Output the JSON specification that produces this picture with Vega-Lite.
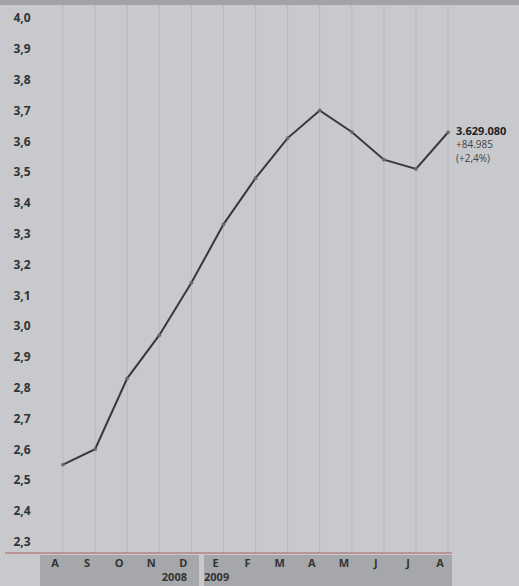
{
  "$schema": "https://vega.github.io/schema/vega-lite/v6.json",
  "width": 412,
  "height": 548,
  "autosize": {"type": "none"},
  "padding": {"left": 40, "top": 5, "right": 67, "bottom": 33},
  "background": "#c8c9cc",
  "config": {
    "view": {"stroke": null},
    "font": "Open Sans",
    "axisX": {
      "tickCount": 13,
      "domain": false,
      "ticks": false,
      "grid": false,
      "labels": false
    },
    "axisY": {
      "orient": "left",
      "tickCount": 18,
      "labelExpr": "replace(format(datum.value, '.1f'), '.', ',')",
      "domain": false,
      "ticks": false,
      "grid": false,
      "labelAlign": "left",
      "labelBaseline": "middle",
      "labelPadding": 27,
      "labelFont": "Open Sans",
      "labelFontWeight": "bold",
      "labelFontSize": 12,
      "labelColor": "#333333",
      "labelFlush": false,
      "labelOverlap": false
    }
  },
  "data": {
    "values": [
      {"m": 0, "mes": "A", "v": 2.55},
      {"m": 1, "mes": "S", "v": 2.60},
      {"m": 2, "mes": "O", "v": 2.83},
      {"m": 3, "mes": "N", "v": 2.97},
      {"m": 4, "mes": "D", "v": 3.14},
      {"m": 5, "mes": "E", "v": 3.33},
      {"m": 6, "mes": "F", "v": 3.48},
      {"m": 7, "mes": "M", "v": 3.61},
      {"m": 8, "mes": "A", "v": 3.70},
      {"m": 9, "mes": "M", "v": 3.63},
      {"m": 10, "mes": "J", "v": 3.54},
      {"m": 11, "mes": "J", "v": 3.51},
      {"m": 12, "mes": "A", "v": 3.629}
    ]
  },
  "layer": [
    {
      "mark": {"type": "rule", "color": "#b8b9bc", "strokeWidth": 1},
      "encoding": {
        "x": {
          "field": "m",
          "type": "quantitative",
          "title": null,
          "scale": {"domain": [-0.717, 12.122], "nice": false, "zero": false}
        },
        "y": {
          "datum": 2.2628,
          "type": "quantitative",
          "scale": {"domain": [2.2628, 4.0422], "nice": false, "zero": false}
        },
        "y2": {"datum": 4.0422}
      }
    },
    {
      "mark": {"type": "line", "color": "#383838", "strokeWidth": 2},
      "encoding": {
        "x": {"field": "m", "type": "quantitative", "title": null},
        "y": {"field": "v", "type": "quantitative", "title": null}
      }
    },
    {
      "data": {"values": [{}]},
      "mark": {"type": "rect", "color": "#a2a3a6"},
      "encoding": {
        "x": {"datum": -1.963, "type": "quantitative"},
        "x2": {"datum": 14.21},
        "y": {"datum": 4.0422, "type": "quantitative"},
        "y2": {"datum": 4.07}
      }
    },
    {
      "data": {"values": [{"a": -0.717, "b": 4.238}, {"a": 4.394, "b": 12.122}]},
      "mark": {"type": "rect", "color": "#a6a7aa"},
      "encoding": {
        "x": {"field": "a", "type": "quantitative", "title": null},
        "x2": {"field": "b"},
        "y": {"datum": 2.256, "type": "quantitative"},
        "y2": {"datum": 2.15}
      }
    },
    {
      "data": {"values": [{}]},
      "mark": {"type": "rule", "color": "#a86060", "strokeWidth": 1},
      "encoding": {
        "x": {"datum": -1.808, "type": "quantitative"},
        "x2": {"datum": 12.122},
        "y": {"datum": 2.2628, "type": "quantitative"}
      }
    },
    {
      "mark": {"type": "point", "filled": true, "color": "#6a6a6a", "size": 14, "opacity": 1},
      "encoding": {
        "x": {"field": "m", "type": "quantitative", "title": null},
        "y": {"field": "v", "type": "quantitative", "title": null}
      }
    },
    {
      "mark": {"type": "text", "align": "center", "baseline": "middle", "dx": -8, "fontSize": 11, "fontWeight": "bold", "color": "#333333", "font": "Open Sans"},
      "encoding": {
        "x": {"field": "m", "type": "quantitative", "title": null},
        "y": {"datum": 2.227, "type": "quantitative"},
        "text": {"field": "mes"}
      }
    },
    {
      "data": {"values": [{"m": 12, "v": 3.629, "t": "3.629.080"}]},
      "mark": {"type": "text", "align": "left", "baseline": "middle", "dx": 8, "fontSize": 11, "fontWeight": "bold", "color": "#222222", "font": "Open Sans"},
      "encoding": {
        "x": {"field": "m", "type": "quantitative", "title": null},
        "y": {"field": "v", "type": "quantitative", "title": null},
        "text": {"field": "t"}
      }
    },
    {
      "data": {"values": [{"m": 12, "v": 3.629, "t": ["+84.985", "(+2,4%)"]}]},
      "mark": {"type": "text", "align": "left", "baseline": "top", "dx": 8, "dy": 8, "fontSize": 10, "lineHeight": 14, "color": "#444444", "font": "Open Sans"},
      "encoding": {
        "x": {"field": "m", "type": "quantitative", "title": null},
        "y": {"field": "v", "type": "quantitative", "title": null},
        "text": {"field": "t"}
      }
    },
    {
      "data": {"values": [{"year": "2008"}]},
      "mark": {"type": "text", "align": "right", "baseline": "middle", "fontSize": 11, "fontWeight": "bold", "color": "#333333", "font": "Open Sans"},
      "encoding": {
        "x": {"datum": 3.864, "type": "quantitative"},
        "y": {"datum": 2.18, "type": "quantitative"},
        "text": {"field": "year"}
      }
    },
    {
      "data": {"values": [{"year": "2009"}]},
      "mark": {"type": "text", "align": "left", "baseline": "middle", "fontSize": 11, "fontWeight": "bold", "color": "#333333", "font": "Open Sans"},
      "encoding": {
        "x": {"datum": 4.394, "type": "quantitative"},
        "y": {"datum": 2.18, "type": "quantitative"},
        "text": {"field": "year"}
      }
    }
  ]
}
